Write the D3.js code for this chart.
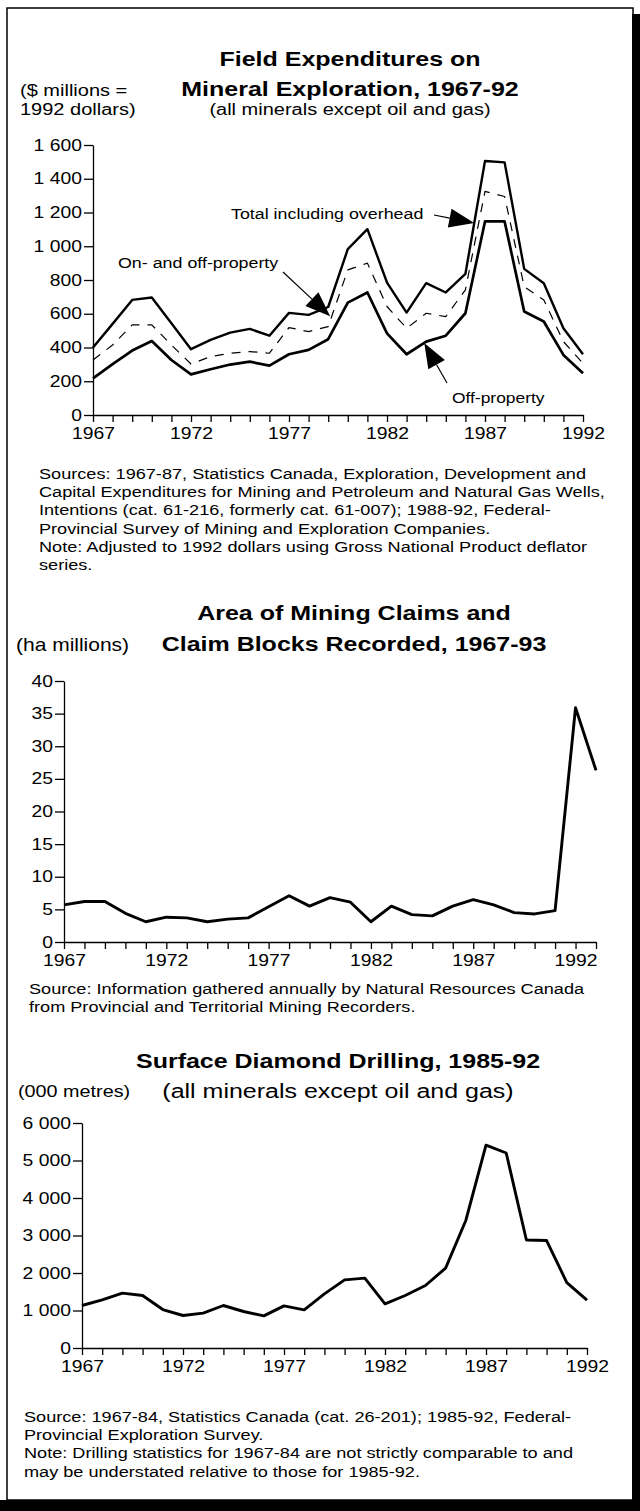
<!DOCTYPE html>
<html lang="en">
<head>
<meta charset="UTF-8">
<title>Mineral Exploration</title>
<script src="https://d3js.org/d3.v7.min.js"></script>
<style>
  body { margin: 0; background: #fff; }
  svg text { font-family: "Liberation Sans", Arial, Helvetica, sans-serif; fill: #000; }
  .axis path, .axis line { stroke: #000; stroke-width: 1.3; }
  .axis text { font-size: 16px; }
</style>
</head>
<body>
<svg width="640" height="1511"></svg>
<script>
// ---- data ----
const years1 = [1967,1968,1969,1970,1971,1972,1973,1974,1975,1976,1977,1978,1979,1980,1981,1982,1983,1984,1985,1986,1987,1988,1989,1990,1991,1992];
const totalOverhead = [400,540,682,696,544,390,445,488,510,470,605,593,640,983,1101,785,607,781,726,836,1505,1497,866,781,514,360];
const onOffProperty = [326,415,534,534,415,302,346,366,376,366,518,494,524,860,900,643,514,603,583,742,1325,1295,761,682,435,306];
const offProperty = [217,302,382,439,326,241,271,299,316,293,360,386,449,666,726,484,360,435,470,603,1147,1147,613,554,356,247];

const years2 = [1967,1968,1969,1970,1971,1972,1973,1974,1975,1976,1977,1978,1979,1980,1981,1982,1983,1984,1985,1986,1987,1988,1989,1990,1991,1992,1993];
const claimArea = [5.7,6.2,6.2,4.4,3.1,3.8,3.7,3.1,3.5,3.7,5.4,7.1,5.5,6.8,6.1,3.1,5.5,4.2,4.0,5.5,6.5,5.7,4.5,4.3,4.8,35.9,26.3];

const years3 = years1;
const drilling = [1133,1284,1462,1400,1025,867,929,1133,973,858,1124,1018,1444,1818,1862,1178,1400,1667,2130,3400,5410,5200,2880,2865,1745,1275];

const labelYears = [1967,1972,1977,1982,1987,1992];
const yTicks1 = [0,200,400,600,800,1000,1200,1400,1600];
const yTicks2 = [0,5,10,15,20,25,30,35,40];
const yTicks3 = [0,1000,2000,3000,4000,5000,6000];

const sources1 = [
  "Sources:  1967-87, Statistics Canada, Exploration, Development and",
  "Capital Expenditures for Mining and Petroleum and Natural Gas Wells,",
  "Intentions (cat. 61-216, formerly cat. 61-007); 1988-92, Federal-",
  "Provincial Survey of Mining and Exploration Companies.",
  "Note:  Adjusted to 1992 dollars using Gross National Product deflator",
  "series."
];
const sources2 = [
  "Source:  Information gathered annually by Natural Resources Canada",
  "from Provincial and Territorial Mining Recorders."
];
const sources3 = [
  "Source:  1967-84, Statistics Canada (cat. 26-201); 1985-92, Federal-",
  "Provincial Exploration Survey.",
  "Note:  Drilling statistics for 1967-84 are not strictly comparable to and",
  "may be understated relative to those for 1985-92."
];

const svg = d3.select("svg");
const SX = 1.21; // the printed type is wider than Arial
const loc = d3.formatLocale({decimal: ".", thousands: "\u2009", grouping: [3], currency: ["", ""]});
const fmt = v => loc.format(",")(v).replace("\u2009", " ");

// frame with shadow
svg.append("rect").attr("x", 7).attr("y", 8).attr("width", 626).attr("height", 1492)
  .attr("fill", "none").attr("stroke", "#000").attr("stroke-width", 1.5);
svg.append("rect").attr("x", 632).attr("y", 14).attr("width", 8).attr("height", 1497).attr("fill", "#000");
svg.append("rect").attr("x", 0).attr("y", 1500).attr("width", 640).attr("height", 11).attr("fill", "#000");

function text(x, y, s, size, opts = {}) {
  return svg.append("text")
    .attr("transform", `translate(${x},${y}) scale(${opts.sx || SX},1)`)
    .attr("font-size", size)
    .attr("font-weight", opts.bold ? "bold" : null)
    .attr("text-anchor", opts.anchor || "start")
    .text(s);
}

function axes(x, y, yTicks, xYears) {
  const gy = svg.append("g").attr("class", "axis")
    .attr("transform", `translate(${x.range()[0]},0)`)
    .call(d3.axisLeft(y).tickValues(yTicks).tickSize(9).tickSizeOuter(0).tickPadding(2).tickFormat(fmt));
  gy.selectAll(".tick text")
    .attr("x", function() { return +d3.select(this).attr("x") / SX; })
    .attr("transform", `scale(${SX},1)`);
  const gx = svg.append("g").attr("class", "axis")
    .attr("transform", `translate(0,${y.range()[0]})`)
    .call(d3.axisBottom(x).tickValues(xYears).tickSize(7).tickSizeOuter(0).tickPadding(6)
      .tickFormat(d => labelYears.includes(d) ? d : ""));
  gx.selectAll(".tick text").attr("transform", `scale(${SX},1)`);
}

function line(x, y, xs, vals, width, dash) {
  svg.append("path")
    .datum(vals.map((v, i) => [xs[i], v]))
    .attr("fill", "none").attr("stroke", "#000")
    .attr("stroke-width", width)
    .attr("stroke-linejoin", "round")
    .attr("stroke-dasharray", dash || null)
    .attr("d", d3.line().x(d => x(d[0])).y(d => y(d[1])));
}

function arrow(from, tip, len, wid) {
  const dx = tip[0] - from[0], dy = tip[1] - from[1];
  const d = Math.hypot(dx, dy), ux = dx / d, uy = dy / d;
  const bx = tip[0] - ux * len, by = tip[1] - uy * len;
  svg.append("line").attr("x1", from[0]).attr("y1", from[1]).attr("x2", bx).attr("y2", by)
    .attr("stroke", "#000").attr("stroke-width", 1.2);
  svg.append("path")
    .attr("d", `M${tip[0]},${tip[1]}L${bx - uy * wid / 2},${by + ux * wid / 2}L${bx + uy * wid / 2},${by - ux * wid / 2}Z`)
    .attr("fill", "#000");
}

// ---- chart 1 ----
{
  const x = d3.scaleLinear().domain([1967, 1992]).range([93, 583]);
  const y = d3.scaleLinear().domain([0, 1600]).range([415, 145]);
  text(350, 66, "Field Expenditures on", 20, {bold: true, anchor: "middle", sx: 1.25});
  text(350, 96, "Mineral Exploration, 1967-92", 20, {bold: true, anchor: "middle", sx: 1.25});
  text(350, 115, "(all minerals except oil and gas)", 16, {anchor: "middle", sx: 1.25});
  text(20, 96, "($ millions =", 16, {sx: 1.25});
  text(20, 115, "1992 dollars)", 16, {sx: 1.25});
  axes(x, y, yTicks1, years1);
  line(x, y, years1, totalOverhead, 2.4);
  line(x, y, years1, onOffProperty, 1.2, "9,8");
  line(x, y, years1, offProperty, 2.7);

  text(231, 219, "Total including overhead", 15, {sx: 1.19});
  arrow([434, 215], [x(1986.45), y(1138)], 25, 19);
  text(118, 268, "On- and off-property", 15, {sx: 1.19});
  arrow([283, 272], [x(1979.1), y(585)], 25, 19);
  text(452, 403, "Off-property", 15, {sx: 1.16});
  arrow([447, 383], [x(1983.9), y(427)], 25, 19);

  sources1.forEach((s, i) => text(39, 479 + i * 18.2, s, 15));
}

// ---- chart 2 ----
{
  const x = d3.scaleLinear().domain([1967, 1993]).range([64, 596]);
  const y = d3.scaleLinear().domain([0, 40]).range([942, 681]);
  text(354, 620, "Area of Mining Claims and", 20, {bold: true, anchor: "middle", sx: 1.25});
  text(354, 651, "Claim Blocks Recorded, 1967-93", 20, {bold: true, anchor: "middle", sx: 1.25});
  text(16, 651, "(ha millions)", 17.5, {sx: 1.2});
  axes(x, y, yTicks2, years2);
  line(x, y, years2, claimArea, 2.9);
  sources2.forEach((s, i) => text(29, 994 + i * 18.2, s, 15));
}

// ---- chart 3 ----
{
  const x = d3.scaleLinear().domain([1967, 1992]).range([82, 587]);
  const y = d3.scaleLinear().domain([0, 6000]).range([1348, 1123]);
  text(338, 1068, "Surface Diamond Drilling, 1985-92", 20, {bold: true, anchor: "middle", sx: 1.25});
  text(338, 1098, "(all minerals except oil and gas)", 20, {anchor: "middle", sx: 1.25});
  text(18, 1097, "(000 metres)", 16.5, {sx: 1.2});
  axes(x, y, yTicks3, years3);
  line(x, y, years3, drilling, 2.9);
  sources3.forEach((s, i) => text(24, 1422 + i * 18.2, s, 15));
}
</script>
</body>
</html>
